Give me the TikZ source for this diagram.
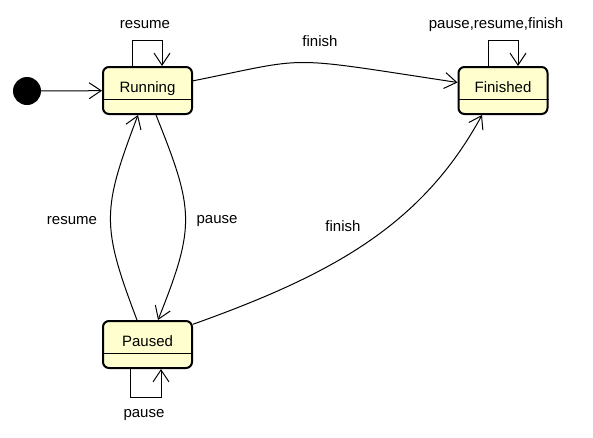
\documentclass[tikz,border=0pt]{standalone}
\usepackage{fontspec}
\setmainfont{Liberation Sans}
\usetikzlibrary{arrows.meta}
\definecolor{etatfond}{HTML}{FEFECE}
\tikzset{
  >={Straight Barb[length=12pt,width=16pt]},
  etat/.style={draw, line width=2pt, rounded corners=6pt, fill=etatfond, minimum width=89pt, inner sep=0pt, text height=25pt, text depth=22pt},
  trans/.style={->, line width=1pt},
}
\begin{document}
\begin{tikzpicture}[x=1pt,y=-1pt,font=\fontsize{15}{18}\selectfont]
    \useasboundingbox (0,0) rectangle (593,437);
    % états
    \node[circle, fill=black, minimum size=28pt, inner sep=0pt] (init) at (27,91) {};
    \node[etat] (running) at (147.5,90.5) {Running};
    \node[etat] (finished) at (503,90.5) {Finished};
    \node[etat] (paused) at (147.5,344.5) {Paused};
    \draw ([yshift=16pt]running.south west) -- ([yshift=16pt]running.south east);
    \draw ([yshift=16pt]finished.south west) -- ([yshift=16pt]finished.south east);
    \draw ([yshift=16pt]paused.south west) -- ([yshift=16pt]paused.south east);

    % transitions
    \draw[trans] (init) -- (running);
    \draw[trans] (running.12) .. controls +(120,-24) and +(-178,-27) .. (finished.170);
    \draw[trans] ([xshift=8.5pt]running.south) .. controls +(38,95) and +(38,-95) .. ([xshift=10.5pt]paused.north);
    \draw[trans] ([xshift=-10.5pt]paused.north) .. controls +(-36,-95) and +(-36,95) .. ([xshift=-9.5pt]running.south);
    \draw[trans] (paused.24.6) .. controls +(140,-50) and +(-60,110) .. ([xshift=-21pt]finished.south);

    % boucles
    \draw[trans] ([xshift=-15.5pt]running.north) -- ++(0,-26) -| ([xshift=14.5pt]running.north);
    \draw[trans] ([xshift=-15pt]finished.north) -- ++(0,-26) -| ([xshift=15pt]finished.north);
    \draw[trans] ([xshift=-17.5pt]paused.south) -- ++(0,28) -| ([xshift=13.5pt]paused.south);

    % étiquettes
    \node (lresumehaut) at (145,25) {resume};
    \node (lfinal) at (496,25) {pause,resume,finish};
    \node (lpausebas) at (144,415) {pause};
    \node (lfinishhaut) at (320,41) {finish};
    \node (lresume) at (72,221) {resume};
    \node (lpause) at (217,221) {pause};
    \node (lfinish) at (343,226) {finish};
\end{tikzpicture}
\end{document}
